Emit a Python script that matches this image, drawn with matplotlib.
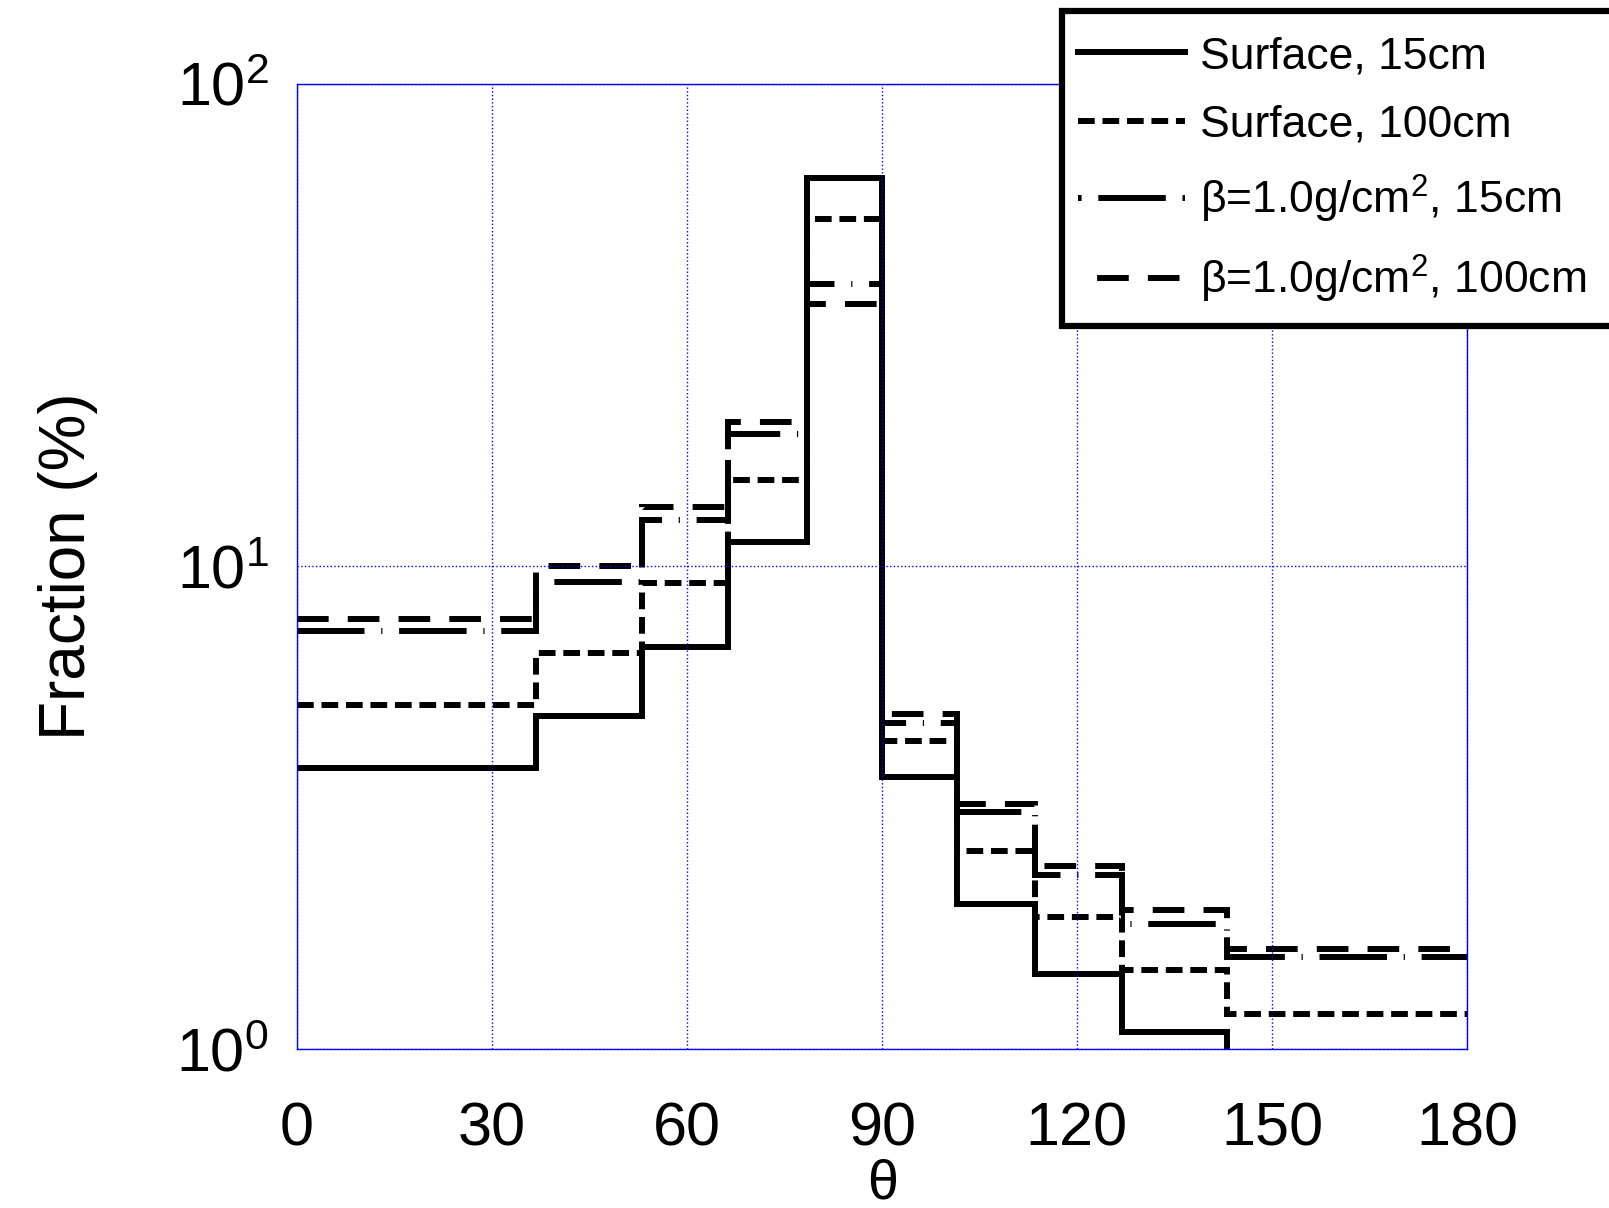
import matplotlib
matplotlib.use("Agg")
import matplotlib.pyplot as plt
from matplotlib.ticker import FixedLocator, NullLocator
from matplotlib.lines import Line2D
from matplotlib.patches import Rectangle

plt.rcParams['font.family'] = ['Liberation Sans', 'DejaVu Sans']
plt.rcParams['mathtext.fontset'] = 'custom'
plt.rcParams['mathtext.rm'] = 'Liberation Sans'
plt.rcParams['mathtext.it'] = 'Liberation Sans'
plt.rcParams['mathtext.default'] = 'regular'

# Bin edges in theta (degrees), equal bins in cos(theta)
edges = [0, 36.87, 53.13, 66.42, 78.46, 90, 101.54, 113.58, 126.87, 143.13, 180]

surface_15 = [3.83, 4.89, 6.82, 11.25, 63.7, 3.66, 2.00, 1.43, 1.087, 0.8]
surface_100 = [5.16, 6.63, 9.25, 15.1, 52.4, 4.35, 2.57, 1.88, 1.46, 1.18]
beta_15 = [7.35, 9.29, 12.47, 18.8, 38.5, 4.73, 3.10, 2.29, 1.82, 1.55]
beta_100 = [7.79, 10.0, 13.3, 19.95, 35.0, 4.94, 3.22, 2.40, 1.94, 1.61]

labels = ['Surface, 15cm', 'Surface, 100cm',
          r'$\beta$=1.0g/cm$^{2}$, 15cm', r'$\beta$=1.0g/cm$^{2}$, 100cm']
xticks = [0, 30, 60, 90, 120, 150, 180]

W, H = 1609, 1208
fig = plt.figure(figsize=(W / 100, H / 100), dpi=100)
ax = fig.add_axes([0.1843, 0.1316, 0.9118 - 0.1843, 0.9305 - 0.1316])

lw = 4.3
styles = [
    dict(linestyle='-'),
    dict(linestyle=(0, (2.8, 1.3))),
    dict(linestyle=(0, (11.3, 2.8, 0.2, 2.8))),
    dict(linestyle=(0, (5.3, 3.2))),
]
leg_styles = [
    dict(linestyle='-'),
    dict(linestyle=(0, (2.8, 1.3))),
    dict(linestyle=(14.1, (11.3, 2.8, 0.6, 2.8))),
    dict(linestyle=(5.3, (5.3, 3.2))),
]
series = [surface_15, surface_100, beta_15, beta_100]
for vals, st, lab in zip(series, styles, labels):
    ax.stairs(vals, edges, baseline=None, color='black', linewidth=lw,
              label=lab, **st)

ax.set_yscale('log')
ax.set_xlim(0, 180)
ax.set_ylim(1, 100)
ax.xaxis.set_major_locator(FixedLocator(xticks))
ax.yaxis.set_major_locator(FixedLocator([1, 10, 100]))
ax.yaxis.set_minor_locator(NullLocator())
ax.set_xticklabels([str(t) for t in xticks])

ax.grid(True, which='major', color='blue', linestyle=':', linewidth=1.0)
for sp in ax.spines.values():
    sp.set_color('blue')
    sp.set_linewidth(1.0)
ax.tick_params(axis='both', which='major', direction='in', color='blue',
               length=0, labelsize=44, labelcolor='black')
ax.tick_params(axis='x', pad=38)
ax.tick_params(axis='y', pad=20)

ax.set_xlabel(r'$\theta$', fontsize=40, labelpad=0)
ax.set_ylabel('Fraction (%)', fontsize=46, labelpad=56)

# Legend box (extends past right figure edge as in the reference)
fig.patches.append(Rectangle((1062 / W, 1 - 326 / H), (W + 20 - 1062) / W,
                             (326 - 11) / H, transform=fig.transFigure,
                             facecolor='white', edgecolor='black',
                             linewidth=4.5, zorder=5))
leg_handles = [Line2D([], [], color='black', linewidth=lw, **st) for st in leg_styles]
leg = fig.legend(leg_handles, labels, loc='upper left',
                 bbox_to_anchor=(1078 / W, 1 - 36 / H),
                 fontsize=32, handlelength=2.4, handletextpad=0.35,
                 labelspacing=0.62, borderpad=0, borderaxespad=0,
                 frameon=False)
leg.set_zorder(6)

fig.savefig('out.png', dpi=100, facecolor='white')
